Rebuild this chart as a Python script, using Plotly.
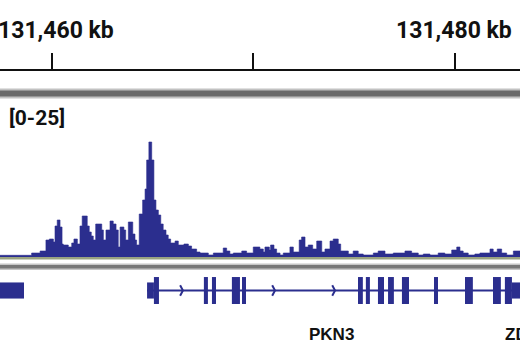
import plotly.graph_objects as go

# ---------------- data ----------------
window_base_kb = 131450
view_start_off = 7.42      # kb offset of left edge
view_end_off = 33.23       # kb offset of right edge
ruler_ticks_off = [10, 20, 30]
ruler_labels = {10: "131,460 kb", 30: "131,480 kb"}
track_range_label = "[0-25]"
track_max = 25

# ChIP-seq signal: segment start (kb offset) and value
sig_start = [7.42, 8.99, 9.41, 9.70, 9.87, 10.07, 10.15, 10.26, 10.40, 10.50,
             10.56, 10.81, 10.98, 11.09, 11.26, 11.39, 11.50, 11.75, 11.85, 11.95,
             12.05, 12.17, 12.47, 12.55, 12.68, 12.88, 13.04, 13.18, 13.29, 13.38,
             13.57, 13.66, 13.79, 14.01, 14.12, 14.20, 14.33, 14.50, 14.62, 14.70,
             14.81, 14.95, 15.06, 15.16, 15.28, 15.40, 15.52, 15.66, 15.77, 15.89,
             16.11, 16.27, 16.55, 16.77, 16.93, 17.18, 17.35, 17.76, 18.01, 18.50,
             18.67, 18.83, 19.00, 19.42, 19.66, 19.99,
             20.32, 20.49, 20.57, 20.79, 20.85, 21.02, 21.15, 21.32, 21.48, 21.81,
             21.98, 22.27, 22.39, 22.56, 22.72, 22.94, 23.14, 23.39, 23.55, 23.80,
             23.96, 24.21, 24.33, 24.71, 24.95, 25.20, 25.45, 25.95, 26.19, 26.53,
             26.94, 27.52, 27.85, 28.18, 28.43, 28.76, 29.17, 29.50, 29.84, 30.09,
             30.25, 30.41, 30.66, 30.99, 31.24, 31.74, 31.90, 32.10, 32.32, 32.57,
             32.90]
sig_value = [0.34, 0.8, 1.2, 3.4, 3.6, 3.0, 6.2, 7.4, 6.0, 2.6,
             2.4, 2.0, 2.8, 3.6, 2.6, 6.2, 8.2, 6.2, 5.0, 4.2,
             3.4, 6.6, 5.4, 3.4, 5.4, 7.2, 6.6, 5.4, 2.0, 6.0,
             5.4, 3.4, 7.0, 4.6, 3.4, 2.4, 8.6, 11.4, 13.6, 19.4,
             23.0, 19.4, 11.4, 9.4, 8.4, 6.6, 5.4, 4.4, 3.6, 2.8,
             3.2, 2.4, 2.6, 2.2, 1.6, 1.0, 0.8, 0.4, 0.8, 1.8,
             1.2, 0.6, 0.8, 1.2, 0.8, 2.0,
             1.6, 1.0, 2.0, 1.4, 2.4, 1.6, 0.8, 0.4, 0.8, 2.0,
             1.0, 3.4, 4.0, 2.0, 2.4, 1.6, 3.2, 1.0, 1.6, 3.2,
             3.6, 2.6, 1.2, 0.6, 1.2, 0.6, 0.4, 0.8, 1.2, 0.6,
             0.8, 1.2, 0.8, 0.4, 0.6, 0.4, 0.8, 0.6, 1.4, 2.0,
             1.2, 0.8, 0.4, 0.6, 0.8, 1.6, 1.0, 1.6, 0.8, 0.4,
             1.2]

# gene annotation (kb offsets)
intron_span = [14.72, 33.40]
coding_exons = [(15.06, 15.31), (17.54, 17.74), (17.94, 18.14), (18.93, 19.33),
                (19.43, 19.63), (25.19, 25.43), (25.58, 25.78), (26.18, 26.48),
                (26.68, 26.97), (27.37, 27.72), (28.96, 29.16), (30.50, 30.89),
                (31.89, 32.28), (32.48, 32.83)]
utr_exons = [(7.20, 8.61), (14.72, 15.06), (32.83, 33.40)]
strand_arrows = [16.50, 21.07, 24.05]
gene_names = ["PKN3", "ZDHHC12"]
gene_label_pos = [23.85, 32.38]

# ---------------- styling ----------------
BLUE = "#2b2e8e"
FONT = "Roboto, Liberation Sans, sans-serif"
W, H = 520, 350


def py(px):
    return (H - px) / H


fig = go.Figure()

# signal
xs = [window_base_kb + s for s in sig_start] + [window_base_kb + view_end_off]
ys = sig_value + [sig_value[-1]]
fig.add_trace(go.Scatter(x=xs, y=ys, mode="lines", line=dict(shape="hv", width=0.6, color=BLUE),
                         fill="tozeroy", fillcolor=BLUE, yaxis="y", hoverinfo="skip"))

# strand arrows (chevrons)
ax, ay = [], []
for a in strand_arrows:
    c = window_base_kb + a
    ax += [c - 0.14, c, c - 0.14, None]
    ay += [0.3, 0, -0.3, None]
fig.add_trace(go.Scatter(x=ax, y=ay, mode="lines", line=dict(color=BLUE, width=2),
                         yaxis="y2", hoverinfo="skip"))

shapes = []
# intron line
shapes.append(dict(type="line", xref="x", yref="y2", x0=window_base_kb + intron_span[0],
                   x1=window_base_kb + intron_span[1], y0=0, y1=0,
                   line=dict(color=BLUE, width=2)))
for s, e in utr_exons:
    shapes.append(dict(type="rect", xref="x", yref="y2", x0=window_base_kb + s, x1=window_base_kb + e,
                       y0=-0.46, y1=0.46, fillcolor=BLUE, line=dict(width=0)))
for s, e in coding_exons:
    shapes.append(dict(type="rect", xref="x", yref="y2", x0=window_base_kb + s, x1=window_base_kb + e,
                       y0=-0.77, y1=0.77, fillcolor=BLUE, line=dict(width=0)))

# gray separator bars
shapes += [
    dict(type="rect", xref="paper", yref="paper", x0=0, x1=1, y0=py(98.5), y1=py(88.5),
         fillcolor="#c2c2c2", line=dict(width=0), layer="below"),
    dict(type="rect", xref="paper", yref="paper", x0=0, x1=1, y0=py(96.5), y1=py(90.5),
         fillcolor="#6a6a6a", line=dict(width=0), layer="below"),
    dict(type="rect", xref="paper", yref="paper", x0=0, x1=1, y0=py(270), y1=py(263.5),
         fillcolor="#c6c6c6", line=dict(width=0), layer="below"),
    dict(type="rect", xref="paper", yref="paper", x0=0, x1=1, y0=py(268.5), y1=py(265),
         fillcolor="#777777", line=dict(width=0), layer="below"),
    dict(type="rect", xref="paper", yref="paper", x0=0, x1=1, y0=py(259.5), y1=py(257),
         fillcolor="#9aa381", line=dict(width=0), layer="below"),
]

annotations = []
for t in ruler_ticks_off:
    if t in ruler_labels:
        annotations.append(dict(x=window_base_kb + t, xref="x", y=py(30), yref="paper",
                                text="<b>" + ruler_labels[t] + "</b>", showarrow=False,
                                xanchor="center", yanchor="middle",
                                xshift=4 if t == ruler_ticks_off[0] else -1,
                                font=dict(family=FONT, size=23, color="#111111")))
annotations.append(dict(x=7 / W, xref="paper", y=py(118), yref="paper",
                        text="<b>" + track_range_label + "</b>", showarrow=False,
                        xanchor="left", yanchor="middle",
                        font=dict(family=FONT, size=21, color="#111111")))
for name, pos in zip(gene_names, gene_label_pos):
    annotations.append(dict(x=window_base_kb + pos, xref="x", y=py(334), yref="paper",
                            text="<b>" + name + "</b>", showarrow=False,
                            xanchor="center" if name == "PKN3" else "left", yanchor="middle",
                            font=dict(family="Liberation Sans, Arial, sans-serif", size=17,
                                      color="#111111")))

fig.update_layout(
    width=W, height=H, margin=dict(l=0, r=0, t=0, b=0),
    paper_bgcolor="white", plot_bgcolor="white", showlegend=False,
    xaxis=dict(domain=[0, 1], range=[window_base_kb + view_start_off, window_base_kb + view_end_off],
               anchor="free", position=py(70), side="top",
               showline=True, linecolor="#111111", linewidth=2,
               ticks="outside", ticklen=16, tickwidth=2, tickcolor="#111111",
               tickvals=[window_base_kb + t for t in ruler_ticks_off],
               showticklabels=False, showgrid=False, zeroline=False, fixedrange=True),
    yaxis=dict(domain=[py(257), py(257 - 125)], range=[0, track_max], visible=False,
               fixedrange=True),
    yaxis2=dict(domain=[py(308), py(273)], range=[-1, 1], visible=False, fixedrange=True),
    shapes=shapes, annotations=annotations,
)

fig.write_html("out.html")
